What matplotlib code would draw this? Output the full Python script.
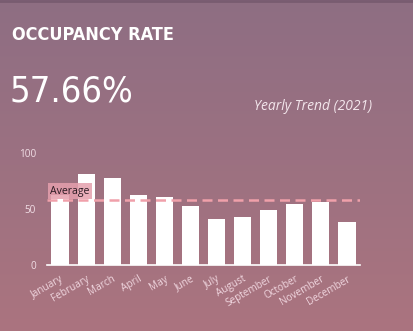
import matplotlib
matplotlib.use("Agg")
import matplotlib.pyplot as plt
import numpy as np

months = ["January", "February", "March", "April", "May", "June", "July",
          "August", "September", "October", "November", "December"]
occupancy = [62, 81, 77.5, 62, 60.5, 52.5, 41, 43, 49, 54.5, 56, 38.5]
average = 57.66
yticks = [0, 50, 100]
title = "OCCUPANCY RATE"
kpi = "57.66%"
subtitle = "Yearly Trend (2021)"

W, H = 414, 331
fig = plt.figure(figsize=(W / 100, H / 100), dpi=100)

bg = fig.add_axes([0, 0, 1, 1])
top = np.array([142, 110, 131]) / 255
bot = np.array([171, 116, 127]) / 255
t = np.linspace(0, 1, 256)[:, None]
grad = top * (1 - t) + bot * t
bg.imshow(grad[:, None, :].repeat(2, axis=1), aspect="auto", extent=[0, 1, 0, 1])
bg.axhline(0.997, color=(0.47, 0.36, 0.44), lw=2)
bg.set_axis_off()

fig.text(12 / W, 1 - 35 / H, title, fontsize=13, fontweight="bold", color="white",
         family="DejaVu Sans", stretch="condensed", va="center", ha="left")
fig.text(10 / W, 1 - 91 / H, kpi, fontsize=26, color="white",
         family="DejaVu Sans", stretch="condensed", va="center", ha="left")
fig.text(372 / W, 1 - 106 / H, subtitle, fontsize=10, style="italic", color="#f3e6ec",
         family=["Open Sans", "DejaVu Sans"], va="center", ha="right")

ax = fig.add_axes([47 / W, 1 - 265.3 / H, 313 / W, 112.7 / H])
ax.patch.set_alpha(0)
x = np.arange(len(months))
ax.bar(x, occupancy, width=0.66, color="white", zorder=2)
ax.set_xlim(-0.5, len(months) - 0.5)
ax.set_ylim(0, 100)
ax.axhline(average, color="#f0a0aa", lw=1.8, ls=(0, (4, 2.2)), zorder=3)
ax.text(-0.38, average + 3.2, "Average", fontsize=7.6, color="#2a1a22",
        family=["Open Sans", "DejaVu Sans"], va="bottom", ha="left", zorder=4,
        bbox=dict(boxstyle="square,pad=0.22", fc="#e5a0ad", ec="none", alpha=0.85))
for s in ["top", "right", "left"]:
    ax.spines[s].set_visible(False)
ax.spines["bottom"].set_color("white")
ax.spines["bottom"].set_linewidth(1.2)
ax.set_yticks(yticks)
ax.set_yticklabels([str(v) for v in yticks], fontsize=7.2, color="#f0dde5",
                   family=["Open Sans", "DejaVu Sans"])
ax.set_xticks(x)
ax.set_xticklabels(months, rotation=30, ha="right", rotation_mode="anchor",
                   fontsize=7.2, color="#f0d6df", family=["Open Sans", "DejaVu Sans"])
ax.tick_params(length=0, pad=6)
ax.tick_params(axis="y", pad=8)

fig.savefig("out.png", dpi=100)
